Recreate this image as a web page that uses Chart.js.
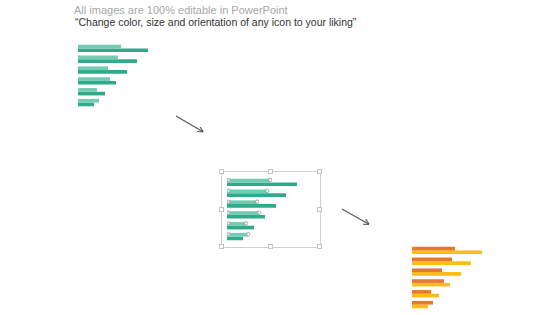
<!DOCTYPE html>
<html>
<head>
<meta charset="utf-8">
<script src="https://cdn.jsdelivr.net/npm/chart.js@4"></script>
<style>
  html, body { margin: 0; padding: 0; background: #ffffff; }
  body { width: 560px; height: 315px; position: relative; overflow: hidden; font-family: "Liberation Sans", Arial, sans-serif; }
  .t1 { position: absolute; left: 74px; top: 3px; font-size: 11.6px; color: #a8a8a8; white-space: nowrap; transform: scaleX(0.95); transform-origin: 0 0; }
  .t2 { position: absolute; left: 75px; top: 16px; font-size: 10.5px; color: #333333; white-space: nowrap; }
  canvas.c { position: absolute; }
  .frame { position: absolute; left: 221px; top: 171px; width: 98px; height: 75px; border: 1px solid #cfcfcf; }
  .h { position: absolute; width: 3px; height: 3px; border: 1px solid #c4c4c4; background: #fff; }
  svg.arrows { position: absolute; left: 0; top: 0; }
</style>
</head>
<body>
<div class="t1">All images are 100% editable in PowerPoint</div>
<div class="t2">“Change color, size and orientation of any icon to your liking”</div>

<div class="frame"></div>
<div class="h" style="left:219px;top:169px"></div>
<div class="h" style="left:268px;top:169px"></div>
<div class="h" style="left:317px;top:169px"></div>
<div class="h" style="left:219px;top:207px"></div>
<div class="h" style="left:317px;top:207px"></div>
<div class="h" style="left:219px;top:244px"></div>
<div class="h" style="left:268px;top:244px"></div>
<div class="h" style="left:317px;top:244px"></div>

<canvas class="c" id="c1" width="80" height="65" style="left:78px;top:43px"></canvas>
<canvas class="c" id="c2" width="80" height="65" style="left:227px;top:177px"></canvas>
<canvas class="c" id="c3" width="80" height="65" style="left:412px;top:245px"></canvas>

<svg class="arrows" width="560" height="315">
  <defs>
    <marker id="ah" markerWidth="6" markerHeight="6" refX="5" refY="3" orient="auto" markerUnits="userSpaceOnUse">
      <path d="M0,0 L6,3 L0,6" fill="none" stroke="#555" stroke-width="1"/>
    </marker>
  </defs>
  <line x1="176" y1="116" x2="202.5" y2="131.5" stroke="#555" stroke-width="1.1" marker-end="url(#ah)"/>
  <line x1="342" y1="209" x2="368.5" y2="224" stroke="#555" stroke-width="1.1" marker-end="url(#ah)"/>
</svg>

<script>
const categories = ["1", "2", "3", "4", "5", "6"];
const seriesA = [43, 40, 30, 32, 19, 21];
const seriesB = [70, 59, 49, 38, 27, 16];
const axisMax = 80;

const handlePlugin = {
  id: 'handles',
  afterDatasetsDraw(chart) {
    const ctx = chart.ctx;
    const meta = chart.getDatasetMeta(0);
    ctx.save();
    ctx.strokeStyle = '#9a9a9a';
    ctx.fillStyle = 'rgba(255,255,255,0.6)';
    ctx.lineWidth = 0.8;
    meta.data.forEach(el => {
      const pts = [el.base + 1.5, el.x];
      pts.forEach(px => {
        ctx.beginPath();
        ctx.arc(px, el.y - 0.5, 1.8, 0, Math.PI * 2);
        ctx.fill();
        ctx.stroke();
      });
    });
    ctx.restore();
  }
};

function makeChart(id, colA, colB, extraPlugins) {
  return new Chart(document.getElementById(id), {
    type: 'bar',
    data: {
      labels: categories,
      datasets: [
        { data: seriesA, backgroundColor: colA, borderWidth: 0, barPercentage: 1, categoryPercentage: 0.68 },
        { data: seriesB, backgroundColor: colB, borderWidth: 0, barPercentage: 1, categoryPercentage: 0.68 }
      ]
    },
    options: {
      indexAxis: 'y',
      responsive: false,
      animation: false,
      devicePixelRatio: 1,
      layout: { padding: 0 },
      plugins: { legend: { display: false }, tooltip: { enabled: false } },
      scales: {
        x: { display: false, min: 0, max: axisMax },
        y: { display: false }
      }
    },
    plugins: extraPlugins || []
  });
}

makeChart('c1', '#72cbb2', '#2fab8b');
makeChart('c2', '#72cbb2', '#2fab8b', [handlePlugin]);
makeChart('c3', '#e8782c', '#fcbe12');
</script>
</body>
</html>
